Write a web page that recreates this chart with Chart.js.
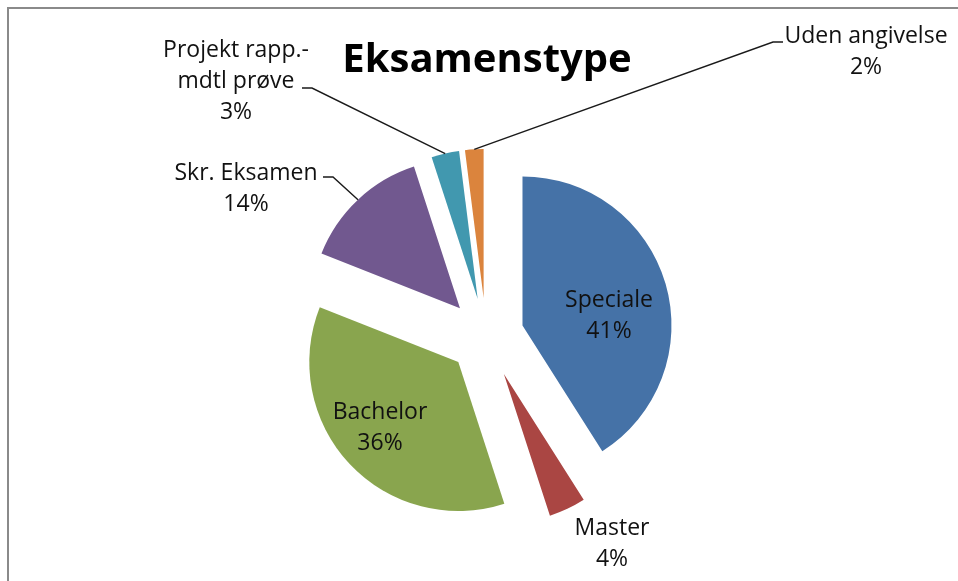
<!DOCTYPE html>
<html>
<head>
<meta charset="utf-8">
<title>Eksamenstype</title>
<script src="https://cdn.jsdelivr.net/npm/chart.js@4.4.1/dist/chart.umd.min.js"></script>
<style>
    html, body {
        margin: 0;
        padding: 0;
        background: #fff;
        overflow: hidden;
    }
    #frame {
        position: absolute;
        left: 7px;
        top: 7px;
        width: 1000px;
        height: 700px;
        border-left: 2px solid #8a8a8a;
        border-top: 2px solid #8a8a8a;
    }
    #myChart {
        position: absolute;
        left: 0;
        top: 0;
    }
</style>
</head>
<body>
<div id="frame"></div>
<canvas id="myChart" width="958" height="581"></canvas>
<script>
// data
var categories = ["Speciale", "Master", "Bachelor", "Skr. Eksamen", "Projekt rapp.-\nmdtl prøve", "Uden angivelse"];
var shares = [41, 4, 36, 14, 3, 2];

var colors = ["#4572A7", "#AA4643", "#89A54E", "#71588F", "#4198AF", "#DB843D"];

// how far each slice is pulled out of the pie
var explode = [38, 42, 38, 38, 38, 38];

// where each label text sits (centre x, first baseline) and where its leader line starts
var labelSpots = [
    { x: 609, y: 307, lead: null },
    { x: 612, y: 535, lead: null },
    { x: 380, y: 419, lead: null },
    { x: 246, y: 180, lead: [323, 177, 333, 177] },
    { x: 236, y: 57, lead: [302, 88, 312, 88] },
    { x: 866, y: 43, lead: [783, 42, 773, 42] },
];

var explodePlugin = {
    id: "explode",
    afterDatasetUpdate: function (chart, args) {
        args.meta.data.forEach(function (arc, i) {
            var mid = (arc.startAngle + arc.endAngle) / 2;
            arc.x += Math.cos(mid) * explode[i];
            arc.y += Math.sin(mid) * explode[i];
        });
    },
};

var labelPlugin = {
    id: "pieLabels",
    afterDatasetsDraw: function (chart) {
        var ctx = chart.ctx;
        var arcs = chart.getDatasetMeta(0).data;
        ctx.save();

        // leader lines
        ctx.strokeStyle = "#1a1a1a";
        ctx.lineWidth = 1.4;
        arcs.forEach(function (arc, i) {
            var spot = labelSpots[i];
            if (!spot.lead) return;
            var mid = (arc.startAngle + arc.endAngle) / 2;
            var ex = arc.x + Math.cos(mid) * arc.outerRadius;
            var ey = arc.y + Math.sin(mid) * arc.outerRadius;
            ctx.beginPath();
            ctx.moveTo(spot.lead[0], spot.lead[1]);
            ctx.lineTo(spot.lead[2], spot.lead[3]);
            ctx.lineTo(ex, ey);
            ctx.stroke();
        });

        // texts
        ctx.fillStyle = "#111";
        ctx.font = "23px 'Open Sans'";
        ctx.textAlign = "center";
        ctx.textBaseline = "alphabetic";
        categories.forEach(function (name, i) {
            var spot = labelSpots[i];
            var lines = name.split("\n");
            lines.push(shares[i] + "%");
            lines.forEach(function (line, k) {
                ctx.fillText(line, spot.x, spot.y + k * 31);
            });
        });

        // title
        ctx.fillStyle = "#000";
        ctx.font = "bold 40px 'Open Sans'";
        ctx.fillText("Eksamenstype", 487, 72);
        ctx.restore();
    },
};

var chart = new Chart(document.getElementById("myChart"), {
    type: "pie",
    data: {
        labels: categories,
        datasets: [
            {
                data: shares,
                backgroundColor: colors,
                borderWidth: 0,
                radius: 149,
            },
        ],
    },
    options: {
        responsive: false,
        animation: false,
        events: [],
        layout: {
            padding: { left: 114, right: 100, top: 111, bottom: 20 },
        },
        plugins: {
            legend: { display: false },
            tooltip: { enabled: false },
            title: { display: false },
        },
    },
    plugins: [explodePlugin, labelPlugin],
});
</script>
</body>
</html>
